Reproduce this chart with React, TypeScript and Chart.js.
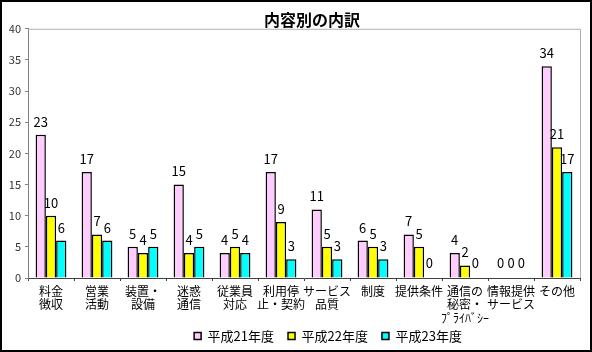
import React, { useEffect, useRef } from "react";
import { Chart, registerables } from "chart.js";

Chart.register(...registerables);

const categories: string[][] = [
  ["料金", "徴収"],
  ["営業", "活動"],
  ["装置・", "設備"],
  ["迷惑", "通信"],
  ["従業員", "対応"],
  ["利用停", "止・契約"],
  ["サービス", "品質"],
  ["制度"],
  ["提供条件"],
  ["通信の", "秘密・", "ﾌﾟﾗｲﾊﾞｼｰ"],
  ["情報提供", "サービス"],
  ["その他"],
];
const seriesNames = ["平成21年度", "平成22年度", "平成23年度"];
const h21 = [23, 17, 5, 15, 4, 17, 11, 6, 7, 4, 0, 34];
const h22 = [10, 7, 4, 4, 5, 9, 5, 5, 5, 2, 0, 21];
const h23 = [6, 6, 5, 5, 4, 3, 3, 3, 0, 0, 0, 17];
const seriesColors = ["#FFCCFF", "#FFFF00", "#00FFFF"];
const titleText = "内容別の内訳";
const yMin = 0;
const yMax = 40;
const yStep = 5;

const FONT = "'Noto Sans CJK JP', 'Noto Sans', sans-serif";

const framePlugin = {
  id: "frame",
  beforeDraw(chart: any) {
    const ctx = chart.ctx;
    ctx.save();
    ctx.fillStyle = "#ffffff";
    ctx.fillRect(0, 0, chart.width, chart.height);
    ctx.restore();
  },
  afterLayout(chart: any) {
    const t = chart.titleBlock;
    if (t) {
      t.left += 22;
      t.right += 22;
    }
    const lg = chart.legend;
    if (lg) {
      lg.left += 38;
      lg.right += 38;
      const h = lg.bottom - lg.top;
      lg.top = 336 - 14 - 6.5;
      lg.bottom = lg.top + h;
    }
  },
  afterDraw(chart: any) {
    const ctx = chart.ctx;
    const a = chart.chartArea;
    ctx.save();
    ctx.strokeStyle = "#B0B0B0";
    ctx.lineWidth = 1;
    ctx.beginPath();
    ctx.moveTo(a.left, a.top + 0.5);
    ctx.lineTo(a.right + 0.5, a.top + 0.5);
    ctx.lineTo(a.right + 0.5, a.bottom);
    ctx.stroke();
    ctx.strokeStyle = "#000000";
    ctx.lineWidth = 2;
    ctx.strokeRect(1, 1, chart.width - 2, chart.height - 2);
    ctx.restore();
  },
};

const labelPlugin = {
  id: "valueLabels",
  afterDatasetsDraw(chart: any) {
    const ctx = chart.ctx;
    ctx.save();
    ctx.font = `13px ${FONT}`;
    ctx.fillStyle = "#000000";
    ctx.textAlign = "center";
    ctx.textBaseline = "middle";
    chart.data.datasets.forEach((ds: any, di: number) => {
      const meta = chart.getDatasetMeta(di);
      meta.data.forEach((el: any, i: number) => {
        const v = ds.data[i];
        ctx.fillText(String(v), el.x, el.y - (v === 0 ? 15 : 13));
      });
    });
    ctx.restore();
  },
};

export default function App() {
  const ref = useRef<HTMLCanvasElement | null>(null);
  useEffect(() => {
    if (!ref.current) return;
    Chart.defaults.font.family = FONT;
    const allSeries = [h21, h22, h23];
    const chart = new Chart(ref.current, {
      type: "bar",
      data: {
        labels: categories,
        datasets: allSeries.map((d, i) => ({
          label: seriesNames[i],
          data: d,
          backgroundColor: seriesColors[i],
          borderColor: "#000000",
          borderWidth: 1.5,
          barPercentage: 1.0,
          categoryPercentage: 0.67,
        })),
      },
      options: {
        responsive: false,
        animation: false,
        devicePixelRatio: 1,
        layout: { padding: { top: 8, left: 0, right: 12, bottom: -11 } },
        plugins: {
          title: {
            display: true,
            text: titleText,
            color: "#000000",
            font: { size: 16, weight: "bold", family: FONT, lineHeight: 1.05 },
            padding: { top: 4, bottom: 0 },
          },
          legend: {
            display: true,
            position: "bottom",
            labels: {
              boxWidth: 7,
              boxHeight: 7,
              padding: 14,
              color: "#000000",
              font: { size: 13, family: FONT },
            },
          },
          tooltip: { enabled: false },
        },
        scales: {
          x: {
            grid: {
              display: true,
              drawOnChartArea: false,
              drawTicks: true,
              tickLength: 3,
              color: "#404040",
              offset: true,
            },
            border: { display: true, color: "#404040", width: 1 },
            ticks: {
              color: "#000000",
              font: { size: 12, family: FONT, lineHeight: 1.1 },
              padding: 4,
              maxRotation: 0,
              autoSkip: false,
            },
            afterFit(scale: any) {
              scale.height = 48;
            },
          },
          y: {
            min: yMin,
            max: yMax,
            ticks: {
              stepSize: yStep,
              color: "#333333",
              font: { size: 11, family: FONT },
              padding: 4,
            },
            grid: {
              display: true,
              drawOnChartArea: false,
              drawTicks: true,
              tickLength: 3,
              color: "#808080",
            },
            border: { display: true, color: "#808080", width: 1 },
            afterFit(scale: any) {
              scale.width = 28;
            },
          },
        },
      },
      plugins: [framePlugin, labelPlugin],
    });
    return () => chart.destroy();
  }, []);
  return (
    <div style={{ position: "fixed", left: 0, top: 0, width: 592, height: 352 }}>
      <canvas ref={ref} width={592} height={352} style={{ display: "block" }} />
    </div>
  );
}
